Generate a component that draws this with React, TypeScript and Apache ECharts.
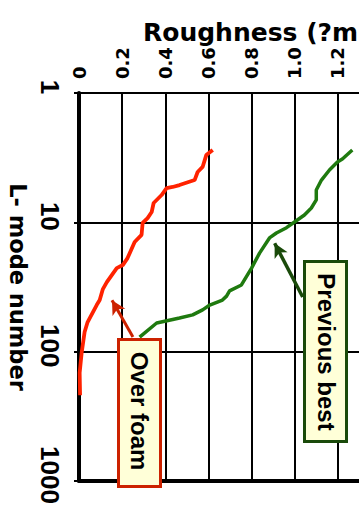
import React, { useEffect, useRef } from "react";
import * as echarts from "echarts";

// Roughness (µm) against L-mode number for the two shell surfaces.
const foamRoughness = [0.62, 0.59, 0.573, 0.55, 0.536, 0.466, 0.434, 0.406, 0.383, 0.346, 0.337, 0.318, 0.295, 0.29, 0.258, 0.225, 0.203, 0.175, 0.129, 0.11, 0.096, 0.082, 0.04, 0.026, 0.012, 0.003, 0.005];
const foamModes = [2.76, 3.02, 3.73, 4.08, 4.71, 5.15, 5.33, 5.43, 6.15, 7.09, 8.32, 9.27, 10.1, 12.5, 14.2, 18.9, 21.4, 22.6, 29.0, 33.0, 39.9, 43.6, 59.0, 70.5, 103, 146, 217];

const bestRoughness = [1.267, 1.221, 1.198, 1.161, 1.124, 1.1, 1.1, 1.077, 1.045, 0.999, 0.962, 0.915, 0.883, 0.837, 0.8, 0.781, 0.753, 0.698, 0.684, 0.665, 0.606, 0.573, 0.527, 0.466, 0.36, 0.281];
const bestModes = [2.76, 3.24, 3.42, 3.94, 4.71, 5.63, 6.71, 7.75, 8.77, 9.94, 11.0, 12.1, 13.2, 17.3, 22.6, 25.5, 30.5, 33.9, 37.2, 39.9, 43.6, 47.5, 51.9, 54.9, 60.0, 77.1];

// Callout arrows: [roughness, L-mode] of tail and head.
const foamArrow = [[0.25, 77], [0.153, 40]];
const bestArrow = [[1.037, 37.8], [0.907, 14.5]];

const roughnessMin = 0;
const roughnessMax = 1.4;
const roughnessStep = 0.2;
const modeMin = 1;
const modeMax = 1000;

const titleText = "Roughness (?m)";
const modeAxisName = "L- mode number";
const foamLabel = "Over foam";
const bestLabel = "Previous best";

const FOAM_RED = "#ff2200";
const BEST_GREEN = "#1f7a0f";
const NOTE_FILL = "#ffffd8";

const pairs = (xs: number[], ys: number[]) => xs.map((x, i) => [x, ys[i]]);

export default function App() {
  const ref = useRef<HTMLDivElement>(null);

  useEffect(() => {
    document.body.style.margin = "0";
    if (!ref.current) return;
    const chart = echarts.init(ref.current, undefined, { renderer: "svg" });

    const arrowLine = (pts: number[][], color: string, width: number) => ({
      silent: true,
      symbol: ["none", "arrow"],
      symbolSize: [11, 14],
      label: { show: false },
      lineStyle: { color, width, type: "solid", opacity: 1 },
      emphasis: { disabled: true },
      data: [[{ coord: pts[0] }, { coord: pts[1] }]],
    });

    chart.setOption({
      animation: false,
      backgroundColor: "#ffffff",
      grid: {
        left: 79,
        top: 93,
        width: 302,
        height: 388,
        containLabel: false,
        outerBoundsMode: "none",
      },
      xAxis: [
        {
          type: "value",
          position: "top",
          min: roughnessMin,
          max: roughnessMax,
          interval: roughnessStep,
          axisLine: { show: true, onZero: false, lineStyle: { color: "#000", width: 2 } },
          axisTick: { show: false },
          axisLabel: {
            rotate: -90,
            margin: 14,
            color: "#000",
            fontFamily: "DejaVu Sans",
            fontWeight: "bold",
            fontSize: 18,
            padding: [10, 0, 0, 0],
            showMaxLabel: false,
            formatter: (v: number) => (v === 0 ? "0" : v.toFixed(1)),
          },
          splitLine: { show: true, lineStyle: { color: "#000", width: 2 } },
        },
        {
          type: "value",
          position: "bottom",
          min: roughnessMin,
          max: roughnessMax,
          interval: roughnessStep,
          axisLine: { show: true, onZero: false, lineStyle: { color: "#000", width: 4 } },
          axisTick: { show: false },
          axisLabel: { show: false },
          splitLine: { show: false },
        },
      ],
      yAxis: {
        type: "log",
        logBase: 10,
        min: modeMin,
        max: modeMax,
        inverse: true,
        name: modeAxisName,
        nameLocation: "middle",
        nameRotate: -90,
        nameGap: 49,
        nameTextStyle: { color: "#000", fontFamily: "DejaVu Sans", fontWeight: "bold", fontSize: 22.5 },
        axisLine: { show: true, lineStyle: { color: "#000", width: 4 } },
        axisTick: { show: true, length: 5, lineStyle: { color: "#000", width: 2 } },
        axisLabel: {
          rotate: -90,
          margin: 16,
          color: "#000",
          fontFamily: "Liberation Sans",
          fontWeight: "bold",
          fontSize: 26,
          padding: [0, 12, 0, 0],
          formatter: (v: number) => String(Math.round(v)),
        },
        splitLine: { show: true, lineStyle: { color: "#000", width: 2 } },
      },
      series: [
        {
          name: foamLabel,
          type: "line",
          xAxisIndex: 0,
          showSymbol: false,
          symbol: "none",
          lineStyle: { color: FOAM_RED, width: 3.8 },
          data: pairs(foamRoughness, foamModes),
          markLine: arrowLine(foamArrow, "#cc2200", 3),
          z: 3,
        },
        {
          name: bestLabel,
          type: "line",
          xAxisIndex: 0,
          showSymbol: false,
          symbol: "none",
          lineStyle: { color: BEST_GREEN, width: 3.5 },
          data: pairs(bestRoughness, bestModes),
          markLine: arrowLine(bestArrow, "#1a4a0a", 3.5),
          z: 3,
        },
      ],
      graphic: [
        {
          type: "text",
          x: 143,
          y: 32,
          z: 50,
          style: {
            text: titleText,
            fill: "#000",
            font: "bold 25px 'DejaVu Sans', sans-serif",
            verticalAlign: "middle",
            align: "left",
          },
        },
        {
          type: "rect",
          z: 100,
          shape: { x: 118.5, y: 339.5, width: 42, height: 147 },
          style: { fill: NOTE_FILL, stroke: "#cc2200", lineWidth: 3 },
        },
        {
          type: "text",
          z: 101,
          x: 139,
          y: 411,
          rotation: -Math.PI / 2,
          style: {
            text: foamLabel,
            fill: "#000",
            font: "bold 24px 'Liberation Sans', Arial, sans-serif",
            align: "center",
            verticalAlign: "middle",
          },
        },
        {
          type: "rect",
          z: 100,
          shape: { x: 304.5, y: 261.5, width: 42, height: 180 },
          style: { fill: NOTE_FILL, stroke: "#1a4a0a", lineWidth: 3 },
        },
        {
          type: "text",
          z: 101,
          x: 326,
          y: 352,
          rotation: -Math.PI / 2,
          style: {
            text: bestLabel,
            fill: "#000",
            font: "bold 24px 'Liberation Sans', Arial, sans-serif",
            align: "center",
            verticalAlign: "middle",
          },
        },
      ],
    });

    return () => chart.dispose();
  }, []);

  return <div ref={ref} style={{ width: 359, height: 519 }} />;
}
